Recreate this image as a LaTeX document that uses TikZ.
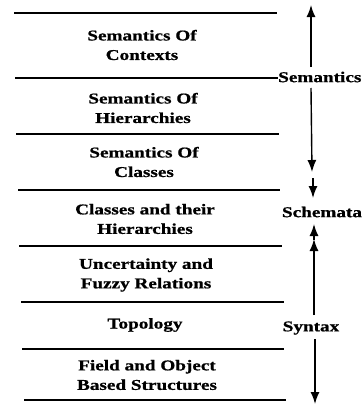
\documentclass[tikz,border=0pt]{standalone}
\usepackage{fontspec}
\setmainfont{Liberation Serif}[FakeStretch=1.28,FakeBold=0.8]
\usetikzlibrary{arrows.meta}
\tikzset{
  layer/.style={line width=1.5pt},
  lab/.style={font=\fontsize{15}{19.5}\selectfont\bfseries, align=center, inner sep=0pt},
  arr/.style={line width=1.4pt, -{Latex[length=12pt,width=9pt]}}
}
\begin{document}
\begin{tikzpicture}[x=1pt,y=-1pt]
\useasboundingbox (0,0) rectangle (363,407);
% layer texts
\node[lab] (t1) at (142,45) {Semantics Of\\Contexts};
\node[lab] (t2) at (143,108) {Semantics Of\\Hierarchies};
\node[lab] (t3) at (144,162) {Semantics Of\\Classes};
\node[lab] (t4) at (145,219) {Classes and their\\Hierarchies};
\node[lab] (t5) at (146,275) {Uncertainty and\\Fuzzy Relations};
\node[lab] (t6) at (145,325) {Topology};
\node[lab] (t7) at (147,375) {Field and Object\\Based Structures};
% side labels
\node[lab, anchor=west] (sem) at (278,77) {Semantics};
\node[lab] (sch) at (322,212) {Schemata};
\node[lab] (syn) at (311,328) {Syntax};
% separating lines
\coordinate (l1a) at (14,13);  \coordinate (l1b) at (277,13);
\coordinate (l2a) at (15,78);
\coordinate (l3a) at (16,134); \coordinate (l3b) at (279,134);
\coordinate (l4a) at (18,190); \coordinate (l4b) at (280,190);
\coordinate (l5a) at (19,246); \coordinate (l5b) at (282,246);
\coordinate (l6a) at (21,302); \coordinate (l6b) at (284,302);
\coordinate (l7a) at (22,349); \coordinate (l7b) at (284,349);
\coordinate (l8a) at (24,400); \coordinate (l8b) at (286,400);
\draw[layer] (l1a) -- (l1b);
\draw[layer] (l2a) -- (sem.west |- l2a);
\draw[layer] (l3a) -- (l3b);
\draw[layer] (l4a) -- (l4b);
\draw[layer] (l5a) -- (l5b);
\draw[layer] (l6a) -- (l6b);
\draw[layer] (l7a) -- (l7b);
\draw[layer] (l8a) -- (l8b);
% axis arrows
\coordinate (semUpTip) at (311,5);
\coordinate (semUpTail) at (311,67);
\coordinate (semDnTail) at (311,88);
\coordinate (semDnTip) at (312,172);
\coordinate (schDnTail) at (313,178);
\coordinate (schDnTip) at (313,198);
\coordinate (schUpTail) at (314,240);
\coordinate (schUpTip) at (314,224);
\coordinate (synUpTail) at (314,315);
\coordinate (synUpTip) at (314,239);
\coordinate (synDnTail) at (315,339);
\coordinate (synDnTip) at (315,404);
\draw[arr] (semUpTail) -- (semUpTip);
\draw[arr] (semDnTail) -- (semDnTip);
\draw[arr] (schDnTail) -- (schDnTip);
\draw[arr] (schUpTail) -- (schUpTip);
\draw[arr] (synUpTail) -- (synUpTip);
\draw[arr] (synDnTail) -- (synDnTip);
\end{tikzpicture}
\end{document}
